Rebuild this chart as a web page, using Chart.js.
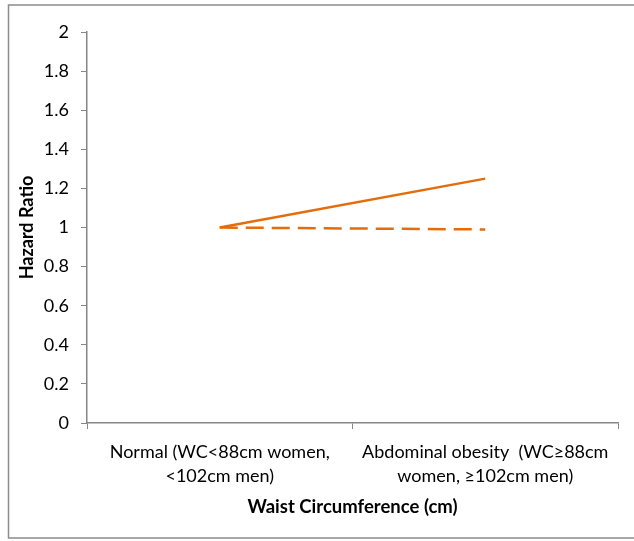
<!DOCTYPE html>
<html>
<head>
<meta charset="utf-8">
<script src="https://cdn.jsdelivr.net/npm/chart.js@4/dist/chart.umd.min.js"></script>
<style>
  html, body { margin: 0; padding: 0; background: #fff; overflow: hidden; }
  #wrap { width: 634px; height: 541px; position: relative; }
</style>
</head>
<body>
<div id="wrap"><canvas id="chart" width="634" height="541"></canvas></div>
<script>
// data
const categories = [
  ['Normal (WC<88cm women,', '<102cm men)'],
  ['Abdominal obesity  (WC≥88cm', 'women, ≥102cm men)']
];
const solidSeries = [1, 1.25];
const dashedSeries = [1, 0.99];
const yTicks = [0, 0.2, 0.4, 0.6, 0.8, 1, 1.2, 1.4, 1.6, 1.8, 2];

const FONT = "Lato, 'Open Sans', sans-serif";
const ORANGE = '#E46C0A';
const AXIS = '#868686';

// grey frame round the whole chart, like the Excel chart area
const framePlugin = {
  id: 'frame',
  afterDraw(chart) {
    const ctx = chart.ctx;
    ctx.save();
    ctx.strokeStyle = '#8c8c8c';
    ctx.lineWidth = 1.5;
    ctx.strokeRect(8.5, 5, 640, 533);
    ctx.restore();
  }
};

new Chart(document.getElementById('chart').getContext('2d'), {
  type: 'line',
  data: {
    labels: categories,
    datasets: [
      {
        label: 'solid',
        data: solidSeries,
        borderColor: ORANGE,
        borderWidth: 2.5,
        pointRadius: 0,
        tension: 0,
      },
      {
        label: 'dashed',
        data: dashedSeries,
        borderColor: ORANGE,
        borderWidth: 2.5,
        borderDash: [18, 8],
        pointRadius: 0,
        tension: 0,
      },
    ],
  },
  options: {
    responsive: false,
    animation: false,
    devicePixelRatio: 1,
    layout: { padding: { left: 8, top: 32, right: 16, bottom: 3 } },
    plugins: {
      legend: { display: false },
      tooltip: { enabled: false },
    },
    scales: {
      x: {
        offset: true,
        grid: { offset: true, drawOnChartArea: false, tickLength: 6, color: AXIS },
        border: { color: AXIS, width: 1.5 },
        ticks: {
          color: '#000',
          maxRotation: 0,
          autoSkip: false,
          padding: 11,
          font: { family: FONT, size: 18, lineHeight: 1.35 },
        },
        title: {
          display: true,
          text: 'Waist Circumference (cm)',
          color: '#000',
          font: { family: FONT, size: 18.5, weight: 'bold' },
          padding: { top: 4, bottom: 20 },
        },
        afterFit(scale) { scale.height = 115; },
      },
      y: {
        min: 0,
        max: 2,
        afterBuildTicks(scale) { scale.ticks = yTicks.map(v => ({ value: v })); },
        grid: { drawOnChartArea: false, tickLength: 6, color: AXIS },
        border: { color: AXIS, width: 1.5 },
        ticks: {
          color: '#000',
          padding: 12,
          font: { family: FONT, size: 18 },
          callback: v => String(v),
        },
        title: {
          display: true,
          text: 'Hazard Ratio',
          color: '#000',
          font: { family: FONT, size: 18, weight: 'bold' },
          padding: { top: 8, bottom: 0 },
        },
        afterFit(scale) { scale.width = 79; },
      },
    },
  },
  plugins: [framePlugin],
});
</script>
</body>
</html>
